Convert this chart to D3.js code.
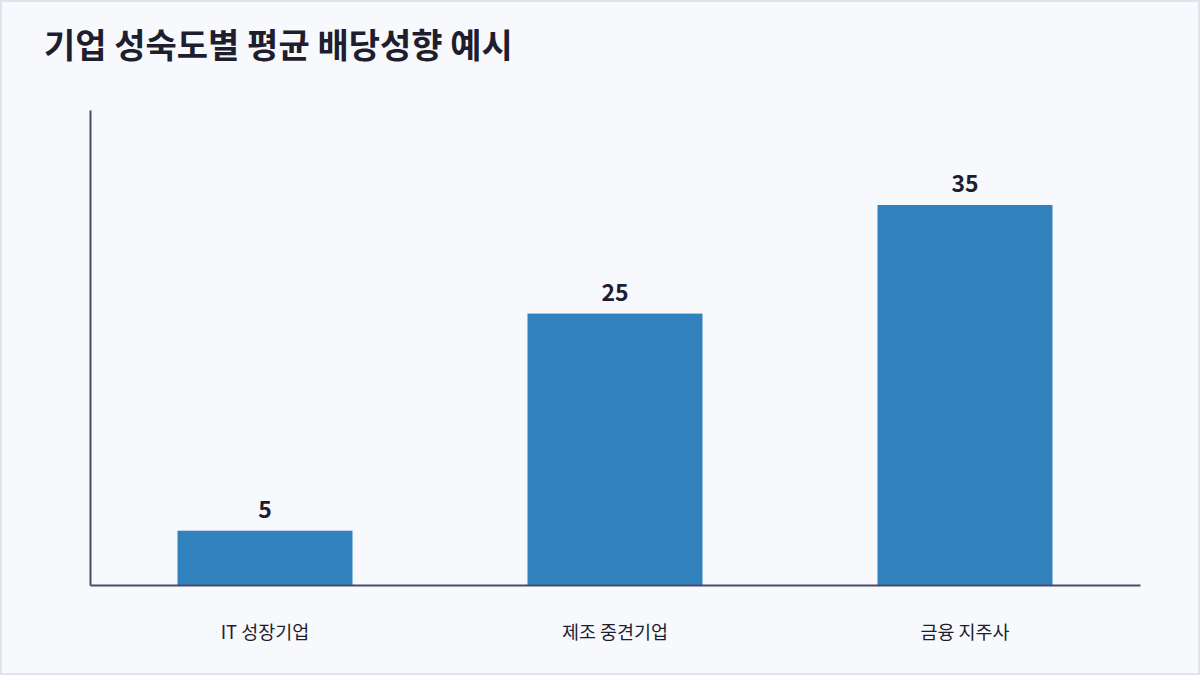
<!DOCTYPE html>
<html><head><meta charset="utf-8">
<script src="https://cdn.jsdelivr.net/npm/d3@7"></script>
<style>
html,body{margin:0;padding:0;background:#fff;}
svg{display:block;font-family:"Noto Sans CJK KR","Noto Sans",sans-serif;}
</style></head>
<body>
<svg id="chart" width="1200" height="675"></svg>
<script>
const title = "기업 성숙도별 평균 배당성향 예시";
const categories = ["IT 성장기업", "제조 중견기업", "금융 지주사"];
const values = [5, 25, 35];

const W = 1200, H = 675;
const margin = {left: 90, right: 60, top: 110, bottom: 90};
const svg = d3.select("#chart");

svg.append("rect").attr("x",1).attr("y",1).attr("width",W-2).attr("height",H-2)
  .attr("fill","#f7f9fd").attr("stroke","#dde4ee").attr("stroke-width",2);

svg.append("text").attr("x",44).attr("y",58).text(title)
  .attr("font-size",34).attr("font-weight",700).attr("fill","#1e1e2e");

const x = d3.scaleBand().domain(categories).range([margin.left, W - margin.right])
  .paddingInner(0.5).paddingOuter(0.25);
const y = d3.scaleLinear().domain([0, d3.max(values)*1.25]).range([H - margin.bottom, margin.top]);

const data = categories.map((c,i)=>({c, v: values[i]}));

svg.selectAll("rect.bar").data(data).join("rect").attr("class","bar")
  .attr("x",d=>x(d.c)).attr("y",d=>y(d.v)).attr("width",x.bandwidth())
  .attr("height",d=>y(0)-y(d.v)).attr("fill","#3182bd");

svg.selectAll("text.val").data(data).join("text").attr("class","val")
  .attr("x",d=>x(d.c)+x.bandwidth()/2).attr("y",d=>y(d.v)-13)
  .attr("text-anchor","middle").attr("font-size",23).attr("font-weight",700)
  .attr("fill","#1e1e2e").text(d=>d.v);

const xAxis = svg.append("g").attr("transform",`translate(0,${y(0)})`)
  .call(d3.axisBottom(x).tickSize(0).tickPadding(0));
xAxis.select(".domain").attr("stroke","#4a4a68").attr("stroke-width",2);
xAxis.selectAll("text").attr("dy",0).attr("y",54).attr("font-size",18.5)
  .attr("font-family","'Noto Sans CJK KR',sans-serif").attr("fill","#1e1e2e");

const yAxis = svg.append("g").attr("transform",`translate(${margin.left},0)`)
  .call(d3.axisLeft(y).tickValues([]).tickSize(0));
yAxis.select(".domain").attr("stroke","#4a4a68").attr("stroke-width",2);
</script>
</body></html>
